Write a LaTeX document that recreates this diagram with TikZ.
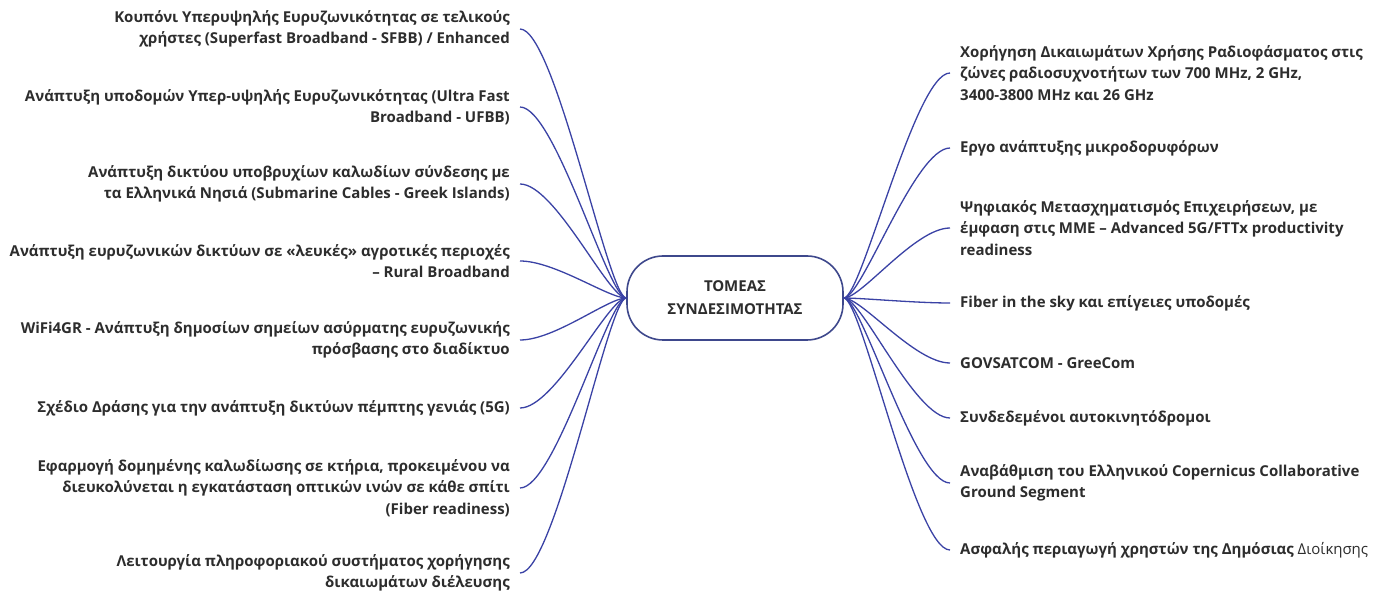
\documentclass[tikz,border=0pt]{standalone}
\usepackage{fontspec}
\setmainfont{Open Sans}
\definecolor{connc}{RGB}{58,66,165}
\definecolor{boxc}{RGB}{62,72,140}
\definecolor{txt}{RGB}{45,45,45}
\begin{document}
\begin{tikzpicture}[x=1pt,y=-1pt,
  lbl/.style={font=\fontsize{15}{21.5}\selectfont\bfseries, text=txt, inner xsep=10pt, inner ysep=0pt},
  lft/.style={lbl, align=right, anchor=east},
  rgt/.style={lbl, align=left, anchor=west},
  connector/.style={draw=connc, line width=1.3pt},
  centre/.style={draw=boxc, line width=1.6pt, rounded corners=36pt, minimum width=216pt, minimum height=84pt, align=center, font=\fontsize{15}{23}\selectfont\bfseries, text=txt}]
\fill[white] (0,0) rectangle (1395,593);
\useasboundingbox (0,0) rectangle (1395,593);
\node[centre] (c) at (735,298) {ΤΟΜΕΑΣ\\ΣΥΝΔΕΣΙΜΟΤΗΤΑΣ};

\node[lft] (l1) at (520,29) {Κουπόνι Υπερυψηλής Ευρυζωνικότητας σε τελικούς\\χρήστες (Superfast Broadband - SFBB) / Enhanced};
\node[lft] (l2) at (520,107) {Ανάπτυξη υποδομών Υπερ-υψηλής Ευρυζωνικότητας (Ultra Fast\\Broadband - UFBB)};
\node[lft] (l3) at (520,184) {Ανάπτυξη δικτύου υποβρυχίων καλωδίων σύνδεσης με\\τα Ελληνικά Νησιά (Submarine Cables - Greek Islands)};
\node[lft] (l4) at (520,261) {Ανάπτυξη ευρυζωνικών δικτύων σε «λευκές» αγροτικές περιοχές\\– Rural Broadband};
\node[lft] (l5) at (520,340) {WiFi4GR - Ανάπτυξη δημοσίων σημείων ασύρματης ευρυζωνικής\\πρόσβασης στο διαδίκτυο};
\node[lft] (l6) at (520,408) {Σχέδιο Δράσης για την ανάπτυξη δικτύων πέμπτης γενιάς (5G)};
\node[lft] (l7) at (520,488) {Εφαρμογή δομημένης καλωδίωσης σε κτήρια, προκειμένου να\\διευκολύνεται η εγκατάσταση οπτικών ινών σε κάθε σπίτι\\(Fiber readiness)};
\node[lft] (l8) at (520,573) {Λειτουργία πληροφοριακού συστήματος χορήγησης\\δικαιωμάτων διέλευσης};

\node[rgt] (r1) at (950,73) {Χορήγηση Δικαιωμάτων Χρήσης Ραδιοφάσματος στις\\ζώνες ραδιοσυχνοτήτων των 700 MHz, 2 GHz,\\3400-3800 MHz και 26 GHz};
\node[rgt] (r2) at (950,148) {Εργο ανάπτυξης μικροδορυφόρων};
\node[rgt] (r3) at (950,228) {Ψηφιακός Μετασχηματισμός Επιχειρήσεων, με\\έμφαση στις ΜΜΕ – Advanced 5G/FTTx productivity\\readiness};
\node[rgt] (r4) at (950,303) {Fiber in the sky και επίγειες υποδομές};
\node[rgt] (r5) at (950,363) {GOVSATCOM - GreeCom};
\node[rgt] (r6) at (950,418) {Συνδεδεμένοι αυτοκινητόδρομοι};
\node[rgt] (r7) at (950,483) {Αναβάθμιση του Ελληνικού Copernicus Collaborative\\Ground Segment};
\node[rgt] (r8) at (950,550) {Ασφαλής περιαγωγή χρηστών της Δημόσιας {\mdseries Διοίκησης}};

\foreach \n in {l1,l2,l3,l4,l5,l6,l7,l8}
  \draw[connector] (\n.east) .. controls +(35,0) and +(-18,0) .. (c.west);
\foreach \n in {r1,r2,r3,r4,r5,r6,r7,r8}
  \draw[connector] (c.east) .. controls +(18,0) and +(-35,0) .. (\n.west);
\end{tikzpicture}
\end{document}
